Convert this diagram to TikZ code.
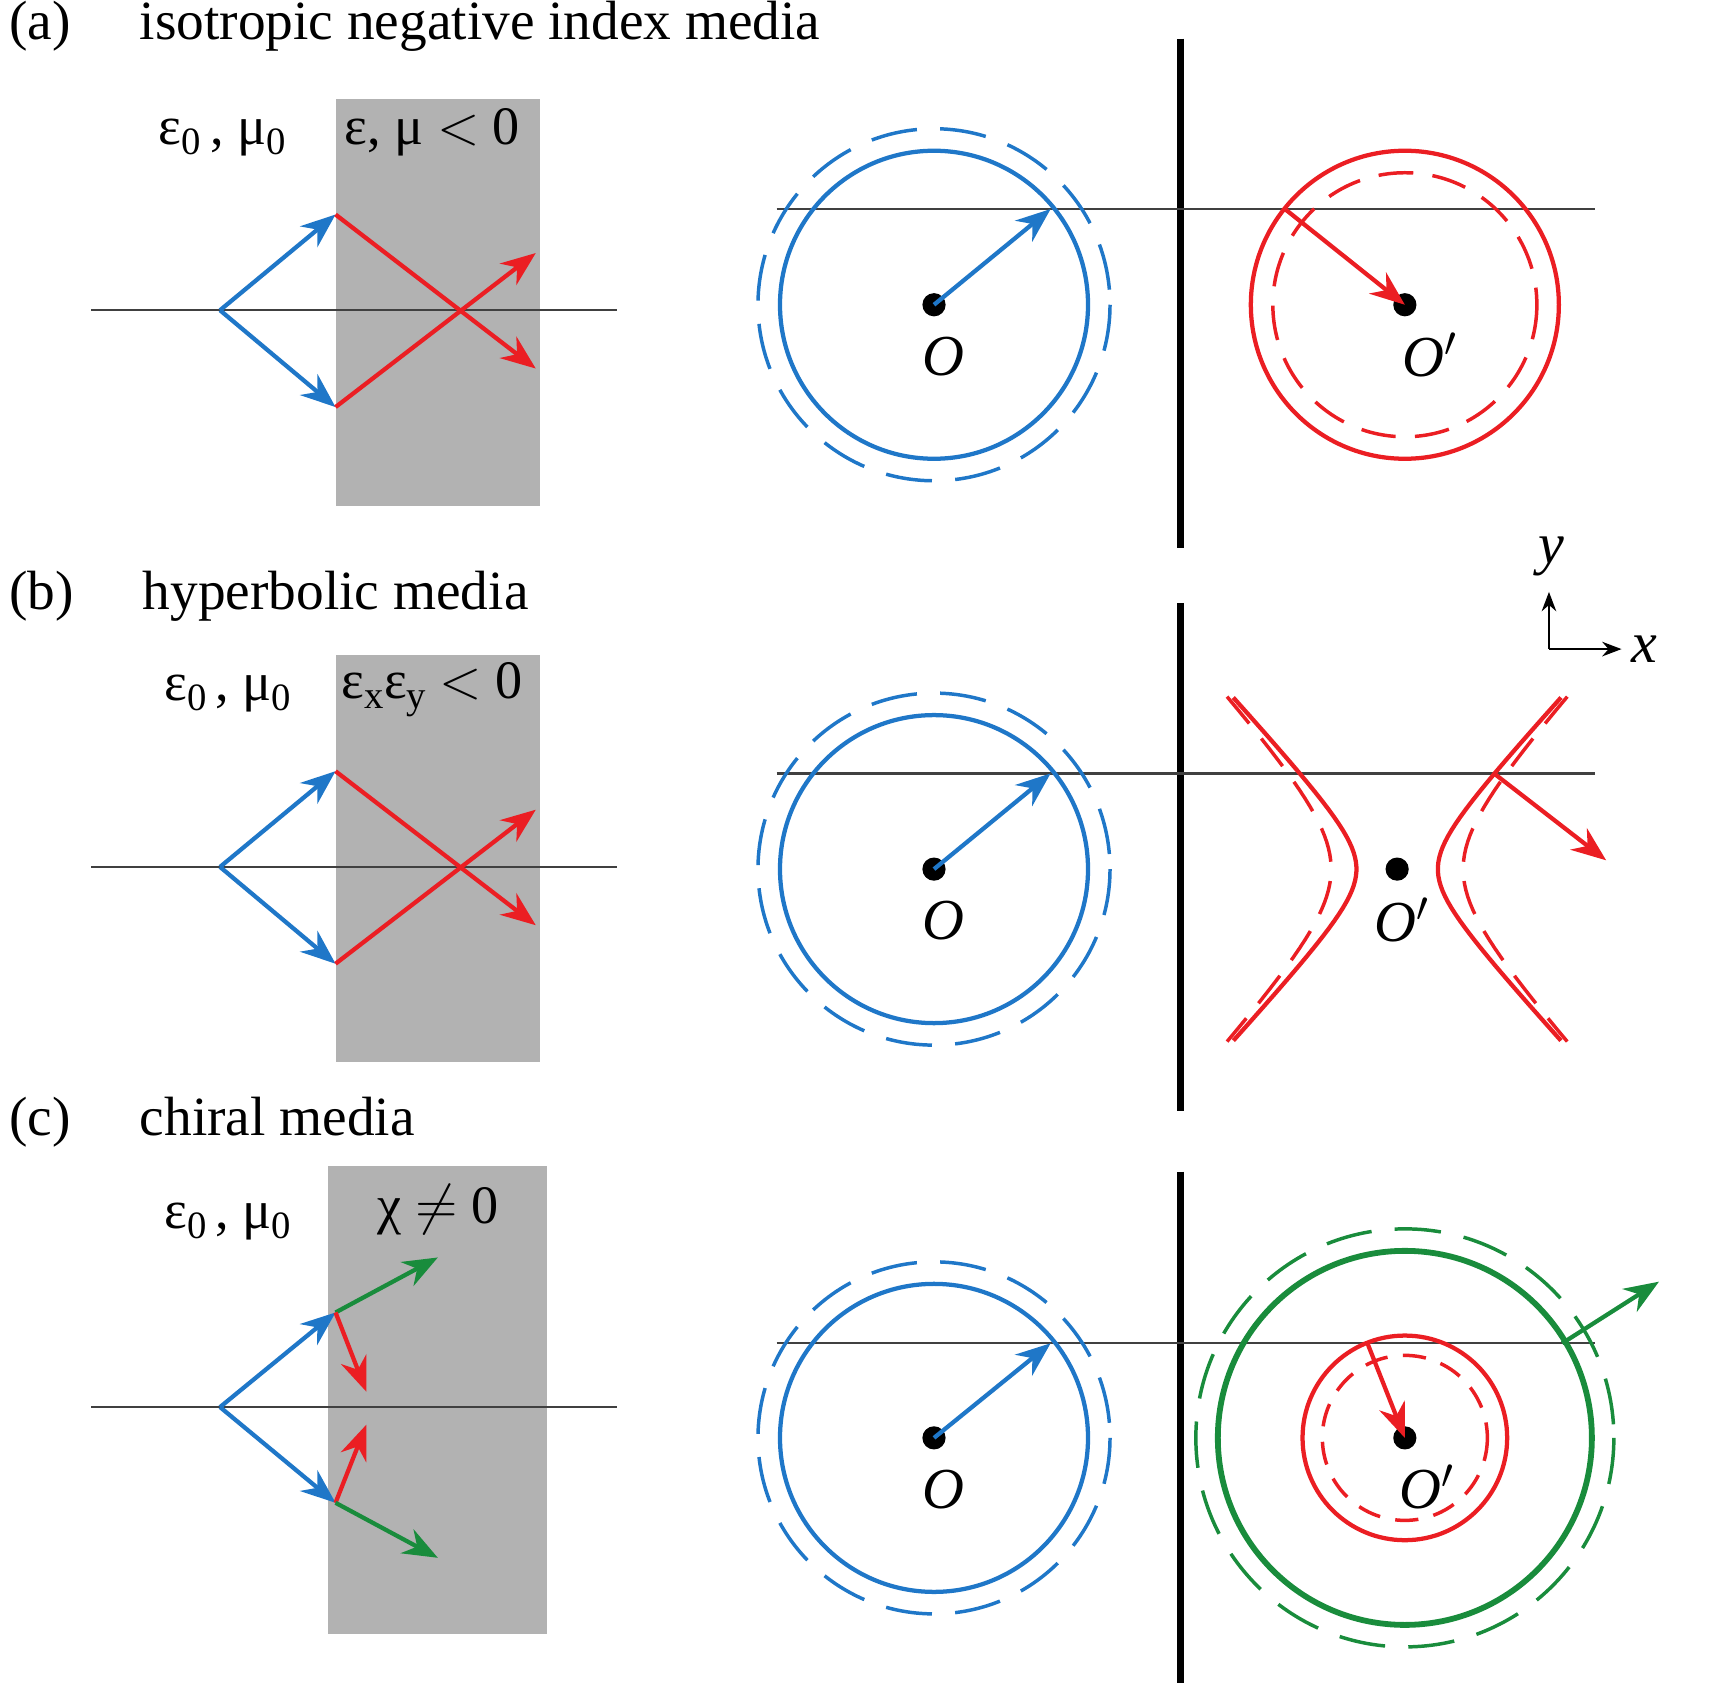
\documentclass[tikz,border=0pt]{standalone}
\usepackage{fontspec}
\setmainfont{Liberation Serif}
\usetikzlibrary{arrows.meta}
\definecolor{kblue}{RGB}{31,119,200}
\definecolor{kred}{RGB}{235,30,35}
\definecolor{kgreen}{RGB}{25,140,60}
\newcommand{\lowsub}[1]{\raisebox{-0.4ex}{\fontsize{10}{12}\selectfont #1}}
\tikzset{
  ray/.style={line width=1.1pt,-{Stealth[length=9pt,width=7pt]}},
  seg/.style={line width=1.1pt},
  axis/.style={line width=0.6pt,black!75},
  wall/.style={line width=2pt,black},
  slab/.style={fill=black!30,draw=none},
  dot/.style={circle,fill=black,inner sep=0pt,minimum size=6pt},
  lbl/.style={font=\fontsize{14}{16}\selectfont},
  olbl/.style={font=\fontsize{15}{18}\selectfont},
  ttl/.style={font=\fontsize{14.3}{17}\selectfont,anchor=west}
}
\begin{document}
\begin{tikzpicture}[x=0.01cm,y=-0.01cm]
\useasboundingbox (0,0) rectangle (1568,1535);

% titles
\node[ttl] (ta) at (-4,24) {(a)\quad\ isotropic negative index media};
\node[ttl] (tb) at (-4,542) {(b)\quad\ hyperbolic media};
\node[ttl] (tc) at (-4,1020) {(c)\quad\ chiral media};

% (a) left
\fill[slab] (305,90) rectangle (491,460);
\node[lbl] (ea) at (202,125) {ε\lowsub{0}\,, μ\lowsub{0}};
\node[lbl] (na) at (393,120) {ε, μ $<$ 0};
\coordinate (sa) at (200,282);
\coordinate (ua) at (305,195);
\coordinate (da) at (305,370);
\coordinate (ra1) at (487,335);
\coordinate (ra2) at (487,230);
\draw[axis] (83,282) -- (561,282);
\draw[ray,kblue] (sa) -- (ua);
\draw[ray,kblue] (sa) -- (da);
\draw[ray,kred] (ua) -- (ra1);
\draw[ray,kred] (da) -- (ra2);

% (b) left
\fill[slab] (305,595) rectangle (491,965);
\node[lbl] (eb) at (207,630) {ε\lowsub{0}\,, μ\lowsub{0}};
\node[lbl] (nb) at (393,627) {ε\lowsub{x}ε\lowsub{y} $<$ 0};
\coordinate (sb) at (200,788);
\coordinate (ub) at (305,701);
\coordinate (db) at (305,876);
\coordinate (rb1) at (487,841);
\coordinate (rb2) at (487,736);
\draw[axis] (83,788) -- (561,788);
\draw[ray,kblue] (sb) -- (ub);
\draw[ray,kblue] (sb) -- (db);
\draw[ray,kred] (ub) -- (rb1);
\draw[ray,kred] (db) -- (rb2);

% (c) left
\fill[slab] (298,1060) rectangle (497,1485);
\node[lbl] (ec) at (207,1110) {ε\lowsub{0}\,, μ\lowsub{0}};
\node[lbl] (nc) at (398,1100) {χ $\neq$ 0};
\coordinate (sc) at (200,1279);
\coordinate (uc) at (305,1193);
\coordinate (dc) at (305,1366);
\draw[axis] (83,1279) -- (561,1279);
\draw[ray,kblue] (sc) -- (uc);
\draw[ray,kblue] (sc) -- (dc);
\draw[ray,kgreen] (uc) -- (398,1143);
\draw[ray,kred] (uc) -- (333,1265);
\draw[ray,kred] (dc) -- (333,1295);
\draw[ray,kgreen] (dc) -- (398,1416);

% walls and cuts
\draw[wall] (1073,35) -- (1073,498);
\draw[wall] (1073,548) -- (1073,1010);
\draw[wall] (1073,1065) -- (1073,1530);
\draw[axis] (706,190) -- (1450,190);
\draw[axis] (706,703) -- (1450,703);
\draw[axis] (706,1221) -- (1450,1221);

% blue circles, all panels
\foreach \oy/\cy in {277/190, 790/703, 1307/1221}{
  \node[dot] (o) at (849,\oy) {};
  \draw[seg,kblue] (o.center) circle (140);
  \draw[seg,kblue,line width=0.9pt,dash pattern=on 12pt off 6pt] (o.center) circle (160);
  \draw[ray,kblue] (o.center) -- (955,\cy);
  \node[olbl,font=\fontsize{15}{18}\selectfont\itshape] at (858,\oy+47) {O};
}

% (a) right
\node[dot] (pa) at (1277,277) {};
\draw[seg,kred] (pa.center) circle (140);
\draw[seg,kred,line width=0.9pt,dash pattern=on 9pt off 5pt] (pa.center) circle (120);
\draw[ray,kred] (1168,190) -- (pa.center);
\node[olbl] at (1300,323) {\textit{O}$'$};

% (b) right
\node[dot] (pb) at (1270,790) {};
\draw[seg,kred,domain=-2.07:2.07,samples=40,variable=\t]
  plot ({1270+37*cosh(\t)},{790+40*sinh(\t)})
  plot ({1270-37*cosh(\t)},{790+40*sinh(\t)});
\draw[seg,kred,line width=0.9pt,dash pattern=on 9pt off 5pt,domain=-1.6:1.6,samples=40,variable=\t]
  plot ({1270+60*cosh(\t)},{790+66*sinh(\t)})
  plot ({1270-60*cosh(\t)},{790+66*sinh(\t)});
\draw[ray,kred] (1358,703) -- (1460,782);
\node[olbl] at (1275,836) {\textit{O}$'$};

% axes
\coordinate (ax) at (1408,590);
\draw[line width=0.7pt,-{Stealth[length=5pt]}] (ax) -- (1408,538);
\draw[line width=0.7pt,-{Stealth[length=5pt]}] (ax) -- (1474,590);
\node[olbl,font=\fontsize{15}{18}\selectfont\itshape] at (1410,506) {y};
\node[olbl,font=\fontsize{15}{18}\selectfont\itshape] at (1495,590) {x};

% (c) right
\node[dot] (pc) at (1277,1307) {};
\draw[seg,kgreen,line width=1.5pt] (pc.center) circle (170);
\draw[seg,kgreen,line width=0.9pt,dash pattern=on 12pt off 6pt] (pc.center) circle (190);
\draw[seg,kred] (pc.center) circle (93);
\draw[seg,kred,line width=0.9pt,dash pattern=on 6pt off 4pt] (pc.center) circle (75);
\draw[ray,kgreen] (1420,1221) -- (1508,1165);
\draw[ray,kred] (1243,1221) -- (pc.center);
\node[olbl] at (1297,1352) {\textit{O}$'$};
\end{tikzpicture}
\end{document}
